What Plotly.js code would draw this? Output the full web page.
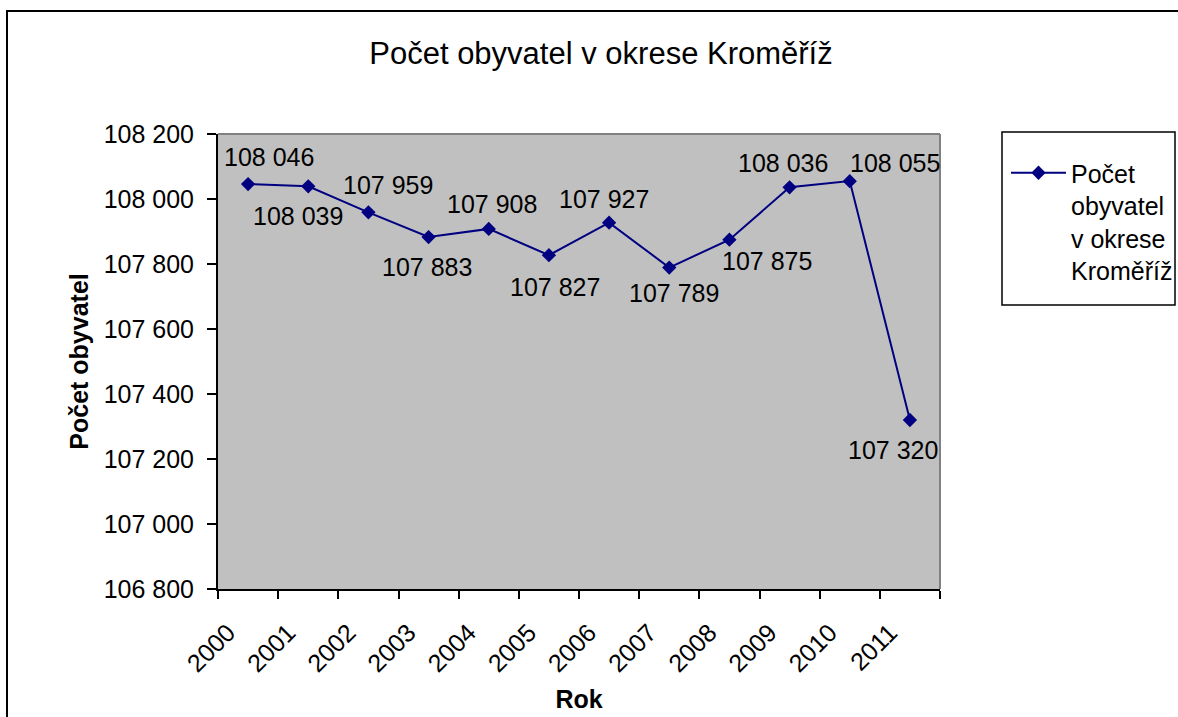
<!DOCTYPE html>
<html>
<head>
<meta charset="utf-8">
<script src="https://cdn.plot.ly/plotly-3.0.1.min.js"></script>
<style>
html,body{margin:0;padding:0;background:#fff;}
#chart{width:1178px;height:717px;}
</style>
</head>
<body>
<div id="chart"></div>
<script>
// ---- data ----
const years = ["2000","2001","2002","2003","2004","2005","2006","2007","2008","2009","2010","2011"];
const population = [108046, 108039, 107959, 107883, 107908, 107827, 107927, 107789, 107875, 108036, 108055, 107320];
const yTicks = [106800, 107000, 107200, 107400, 107600, 107800, 108000, 108200];
const chartTitle = "Počet obyvatel v okrese Kroměříž";
const legendName = "Počet<br>obyvatel<br>v okrese<br>Kroměříž";
const xTitle = "Rok";
const yTitle = "Počet obyvatel";

// label offsets in pixels (dx right, dy down) – layout only
const labelDx = [21, -10, 20, -2, 3, 6, -5, 5, 38, -7, 45, -17];
const labelDy = [-27, 30, -27, 30, -25, 32, -24, 25, 21, -24, -18, 30];

function fmt(v){ return String(v).replace(/\B(?=(\d{3})+(?!\d))/g, " "); }

const FONT = "Liberation Sans, Arial, sans-serif";
const FS = 25;

const trace = {
  type: "scatter",
  mode: "lines+markers",
  x: years,
  y: population,
  name: legendName,
  line: {color: "#000080", width: 2},
  marker: {symbol: "diamond", size: 11, color: "#000080"},
  hoverinfo: "x+y"
};

const annotations = years.map((yr, i) => ({
  x: i, y: population[i], xref: "x", yref: "y",
  text: fmt(population[i]), showarrow: false,
  xanchor: "center", yanchor: "middle",
  xshift: labelDx[i], yshift: -labelDy[i],
  font: {family: FONT, size: FS, color: "#000"}
}));

const W = 722, H = 455, L = 218, T = 134;
const px = v => (v - L) / W;
const py = v => (T + H - v) / H;

const shapes = [
  // outer chart frame
  {type: "rect", xref: "paper", yref: "paper", x0: px(7), x1: px(1220), y0: py(760), y1: py(11),
   line: {color: "#000", width: 2}, fillcolor: "rgba(0,0,0,0)", layer: "below"},
  // top and right border of plot area (gray)
  {type: "line", xref: "paper", yref: "paper", x0: 0, x1: 1, y0: 1, y1: 1, line: {color: "#808080", width: 2}, layer: "above"},
  {type: "line", xref: "paper", yref: "paper", x0: 1, x1: 1, y0: 0, y1: 1, line: {color: "#808080", width: 2}, layer: "above"},
  // legend frame
  {type: "rect", xref: "paper", yref: "paper", x0: px(1002), x1: px(1175), y0: py(305), y1: py(132),
   line: {color: "#000", width: 1.5}, fillcolor: "rgba(0,0,0,0)", layer: "above"}
];

const layout = {
  width: 1178, height: 717,
  margin: {l: L, r: 1178 - L - W, t: T, b: 717 - T - H, pad: 0, autoexpand: false},
  paper_bgcolor: "#fff",
  plot_bgcolor: "#C0C0C0",
  separators: ", ",
  font: {family: FONT, size: FS, color: "#000"},
  title: {text: chartTitle, x: 601/1178, xref: "container", xanchor: "center",
          y: 1 - 53/717, yref: "container", yanchor: "middle",
          font: {family: FONT, size: 31, color: "#000"}},
  xaxis: {
    type: "category", tickson: "boundaries", ticks: "outside", ticklen: 8, tickwidth: 2, tickcolor: "#000",
    showline: true, linecolor: "#000", linewidth: 2, showgrid: false, zeroline: false,
    tickangle: -45, tickfont: {family: FONT, size: FS, color: "#000"},
    ticklabelstandoff: 17, ticklabelshift: -20,
    title: {text: xTitle, font: {family: FONT, size: FS, color: "#000", weight: "bold"}, standoff: 14},
    range: [-0.5, years.length - 0.5], fixedrange: true
  },
  yaxis: {
    range: [106800, 108200], tickvals: yTicks, tickformat: ",d",
    ticks: "outside", ticklen: 9, tickwidth: 2, tickcolor: "#000",
    showline: true, linecolor: "#000", linewidth: 2, showgrid: false, zeroline: false,
    tickfont: {family: FONT, size: FS, color: "#000"},
    ticklabelstandoff: 8,
    title: {text: yTitle, font: {family: FONT, size: FS, color: "#000", weight: "bold"}, standoff: 8},
    fixedrange: true
  },
  showlegend: true,
  legend: {
    x: px(1006), xanchor: "left", y: py(150), yanchor: "top",
    bgcolor: "rgba(0,0,0,0)", borderwidth: 0, valign: "top",
    itemwidth: 55, tracegroupgap: 0,
    font: {family: FONT, size: FS, color: "#000"}
  },
  annotations: annotations,
  shapes: shapes
};

Plotly.newPlot("chart", [trace], layout, {displayModeBar: false, staticPlot: true});
</script>
</body>
</html>
